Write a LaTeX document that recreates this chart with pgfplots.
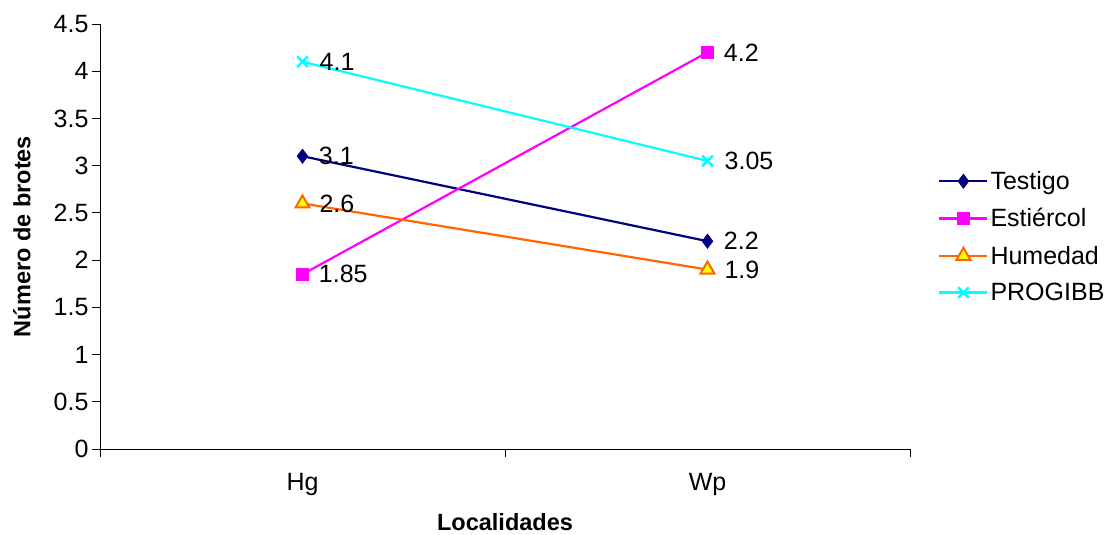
\documentclass[border=0pt]{standalone}
\usepackage{fontspec}
\setmainfont{Liberation Sans}
\usepackage{pgfplots}
\pgfplotsset{compat=1.18}

\definecolor{testigo}{HTML}{000080}
\definecolor{estiercol}{HTML}{FF00FF}
\definecolor{humedad}{HTML}{FF6600}
\definecolor{tri}{HTML}{FFFF00}
\definecolor{progibb}{HTML}{00FFFF}

\newcommand{\chartfont}{\fontsize{25}{29}\selectfont}
\newcommand{\titlefont}{\fontsize{23.5}{27}\selectfont\bfseries}

\begin{document}
\begin{tikzpicture}
\path[use as bounding box] (-100pt,-86pt) rectangle (1008pt,449pt);
\begin{axis}[
  scale only axis,
  width=810pt, height=425pt,
  xmin=0, xmax=2, ymin=0, ymax=4.5,
  axis x line*=bottom, axis y line*=left,
  axis line style={-, line width=0.8pt},
  tick align=outside,
  major tick length=8pt,
  tick style={black, line width=0.8pt},
  xtick={0.5,1.5}, xticklabels={Hg,Wp},
  major x tick style={draw=none},
  minor xtick={0,1,2},
  minor tick length=8pt,
  minor x tick style={black, line width=0.8pt},
  ytick={0,0.5,...,4.5},
  yticklabels={0,0.5,1,1.5,2,2.5,3,3.5,4,4.5},
  /pgf/number format/assume math mode=true,
  tick label style={font=\chartfont},
  xticklabel style={yshift=-13pt},
  label style={font=\titlefont},
  xlabel={Localidades}, ylabel={Número de brotes},
  xlabel style={at={(axis description cs:0.5,-0.172)}, anchor=center},
  ylabel style={at={(axis description cs:-0.0963,0.5)}, anchor=center},
  clip=false,
  legend style={at={(rel axis cs:1.031,0.663)}, anchor=north west,
    draw=none, font=\chartfont, row sep=13.5pt,
    nodes={inner sep=2pt}},
  legend cell align=left,
  legend image code/.code={
    \draw[mark repeat=2, mark phase=2] plot coordinates {(0pt,0pt) (24pt,0pt) (48pt,0pt)};
  },
  nodes near coords,
  point meta=explicit symbolic,
  every node near coord/.append style={font=\chartfont, anchor=west,
    inner sep=0pt, xshift=16pt, yshift=0pt, text=black},
]
\addplot[testigo, line width=2.2pt, mark=diamond*, mark size=7pt,
  mark options={fill=testigo, line width=0.8pt}]
  coordinates {(0.5,3.1)[3.1] (1.5,2.2)[2.2]};
\addlegendentry{Testigo}
\addplot[estiercol, line width=2.2pt, mark=square*, mark size=6pt,
  mark options={fill=estiercol, line width=0.8pt}]
  coordinates {(0.5,1.85)[1.85] (1.5,4.2)[4.2]};
\addlegendentry{Estiércol}
\addplot[humedad, line width=2.2pt, mark=triangle*, mark size=8pt,
  mark options={fill=tri, draw=humedad, line width=2pt}]
  coordinates {(0.5,2.6)[2.6] (1.5,1.9)[1.9]};
\addlegendentry{Humedad}
\addplot[progibb, line width=2.2pt, mark=x, mark size=7.5pt,
  mark options={line width=2.4pt}]
  coordinates {(0.5,4.1)[4.1] (1.5,3.05)[3.05]};
\addlegendentry{PROGIBB}
\end{axis}
\end{tikzpicture}
\end{document}
